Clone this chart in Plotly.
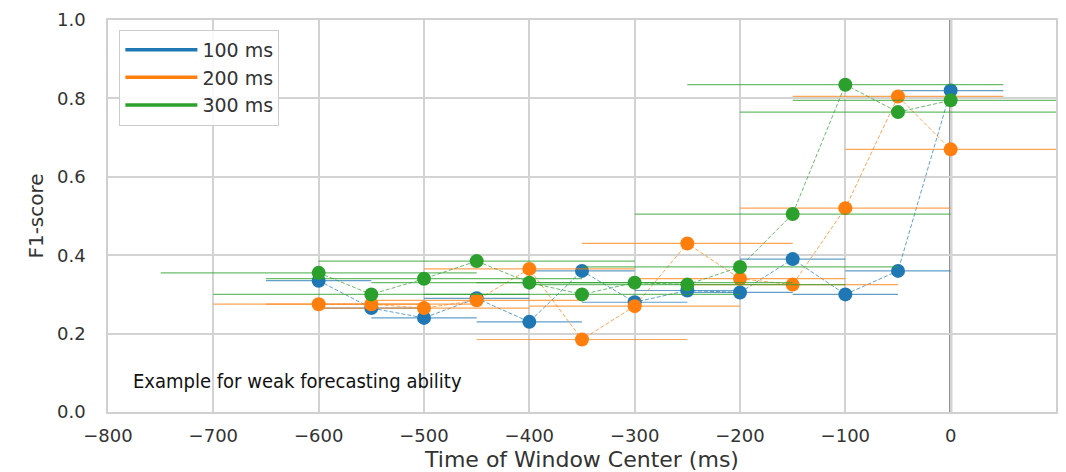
import plotly.graph_objects as go

centers = [-600, -550, -500, -450, -400, -350, -300, -250, -200, -150, -100, -50, 0]
f1_100 = [0.335, 0.265, 0.24, 0.29, 0.23, 0.36, 0.28, 0.31, 0.305, 0.39, 0.30, 0.36, 0.82]
f1_200 = [0.275, 0.275, 0.265, 0.285, 0.365, 0.185, 0.27, 0.43, 0.34, 0.325, 0.52, 0.805, 0.67]
f1_300 = [0.355, 0.30, 0.34, 0.385, 0.33, 0.30, 0.33, 0.325, 0.37, 0.505, 0.835, 0.765, 0.795]
window_ms = [100, 200, 300]
labels = ["100 ms", "200 ms", "300 ms"]
colors = ["#1f77b4", "#ff7f0e", "#2ca02c"]
rgba = ["rgba(31,119,180,0.7)", "rgba(255,127,14,0.7)", "rgba(44,160,44,0.7)"]
series = [f1_100, f1_200, f1_300]

fig = go.Figure()
for vals, w, lab, c, ca in zip(series, window_ms, labels, colors, rgba):
    fig.add_trace(go.Scatter(
        x=centers, y=vals, mode="lines+markers", showlegend=False,
        line=dict(color=ca, width=1, dash="4px,2px"),
        marker=dict(color=c, size=14),
        error_x=dict(type="constant", value=w / 2, color=ca, thickness=1.2, width=0),
    ))
for lab, c in zip(labels, colors):
    fig.add_trace(go.Scatter(x=[None], y=[None], mode="lines", name=lab,
                             line=dict(color=c, width=3.5)))

fig.add_shape(type="line", x0=0, x1=0, y0=0, y1=1, xref="x", yref="paper",
              line=dict(color="#7f7f7f", width=3), layer="below")

fig.add_annotation(text="Example for weak forecasting ability", x=-778, y=0.08,
                   xref="x", yref="y", xanchor="left", yanchor="middle", showarrow=False,
                   font=dict(family="DejaVu Sans Condensed, DejaVu Sans", size=20, color="#111111"))

axis_common = dict(showgrid=True, gridcolor="#d3d3d3", gridwidth=1.5, zeroline=False,
                   showline=True, linecolor="#d0d0d0", linewidth=1.5, mirror=True,
                   ticks="outside", tickcolor="rgba(0,0,0,0)",
                   tickfont=dict(family="DejaVu Sans", size=18, color="#333333"))
fig.update_xaxes(range=[-800, 100], tickvals=[-800, -700, -600, -500, -400, -300, -200, -100, 0],
                 ticklen=7,
                 title=dict(text="Time of Window Center (ms)", standoff=8,
                            font=dict(family="DejaVu Sans", size=22, color="#333333")),
                 **axis_common)
fig.update_yaxes(range=[0, 1.0], tickvals=[0, 0.2, 0.4, 0.6, 0.8, 1.0], tickformat=".1f",
                 ticklen=17,
                 title=dict(text="F1-score", standoff=8,
                            font=dict(family="DejaVu Sans", size=20, color="#333333")),
                 **axis_common)
fig.update_layout(
    width=1050, height=464, plot_bgcolor="white", paper_bgcolor="white",
    margin=dict(l=100, r=0, t=12, b=60),
    legend=dict(x=0.012, y=0.975, xanchor="left", yanchor="top", bgcolor="rgba(255,255,255,0.85)",
                bordercolor="#cccccc", borderwidth=1, itemwidth=72,
                font=dict(family="DejaVu Sans", size=19, color="#333333")),
)
fig.write_html("out.html")
